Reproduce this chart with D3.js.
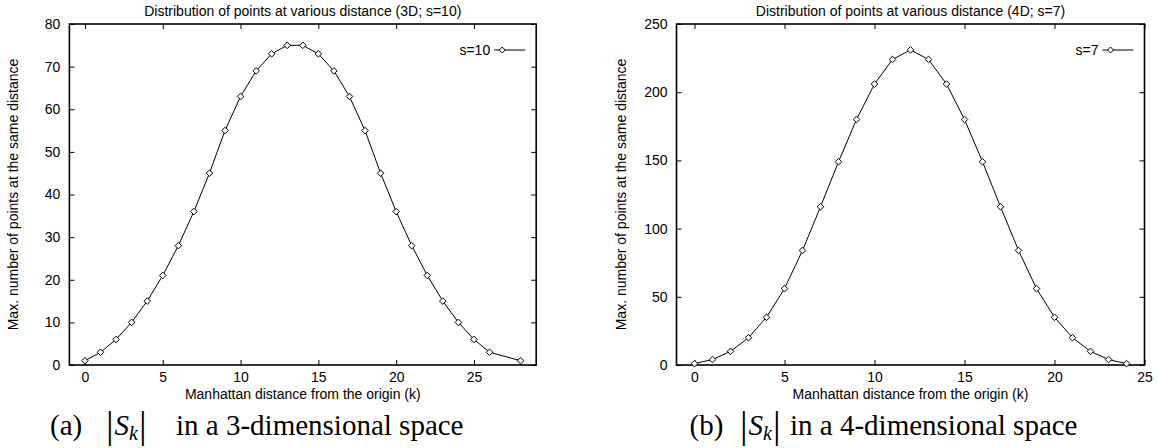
<!DOCTYPE html>
<html>
<head>
<meta charset="utf-8">
<script src="https://cdn.jsdelivr.net/npm/d3@7"></script>
<style>
  html, body { margin: 0; padding: 0; background: #fff; }
  svg { display: block; }
  text.sans { font-family: "Liberation Sans", Arial, Helvetica, sans-serif; fill: #000; }
  text.serif { font-family: "Liberation Serif", "Times New Roman", serif; fill: #000; }
</style>
</head>
<body>
<svg id="chart" width="1157" height="448"></svg>
<script>
// ---- data ----
const distA = [0,1,2,3,4,5,6,7,8,9,10,11,12,13,14,15,16,17,18,19,20,21,22,23,24,25,26,28];
const countA = [1,3,6,10,15,21,28,36,45,55,63,69,73,75,75,73,69,63,55,45,36,28,21,15,10,6,3,1];
const distB = [0,1,2,3,4,5,6,7,8,9,10,11,12,13,14,15,16,17,18,19,20,21,22,23,24];
const countB = [1,4,10,20,35,56,84,116,149,180,206,224,231,224,206,180,149,116,84,56,35,20,10,4,1];
const xTicksA = [0,5,10,15,20,25];
const yTicksA = [0,10,20,30,40,50,60,70,80];
const xTicksB = [0,5,10,15,20,25];
const yTicksB = [0,50,100,150,200,250];
const titles = ["Distribution of points at various distance (3D; s=10)",
                "Distribution of points at various distance (4D; s=7)"];
const legendLabels = ["s=10", "s=7"];
const xLabel = "Manhattan distance from the origin (k)";
const yLabel = "Max. number of points at the same distance";
const captionTags = ["(a)", "(b)"];
const captionText = ["in a 3-dimensional space", "in a 4-dimensional space"];

// ---- layout ----
const panels = [
  { xs: distA, ys: countA, xt: xTicksA, yt: yTicksA, xdom: [-1, 29], ydom: [0, 80],
    left: 69.4, right: 536.2, top: 24, bottom: 365, title: titles[0], leg: legendLabels[0],
    capX: 50, barX: 106, inX: 176, tag: captionTags[0], cap: captionText[0] },
  { xs: distB, ys: countB, xt: xTicksB, yt: yTicksB, xdom: [-1, 25], ydom: [0, 250],
    left: 676.5, right: 1144.5, top: 24, bottom: 365, title: titles[1], leg: legendLabels[1],
    capX: 689.5, barX: 740, inX: 790, tag: captionTags[1], cap: captionText[1] }
];

const svg = d3.select("#chart");
const FS = 14;
const diamond = r => `M0,${-r}L${r},0L0,${r}L${-r},0Z`;

panels.forEach(p => {
  const x = d3.scaleLinear().domain(p.xdom).range([p.left, p.right]);
  const y = d3.scaleLinear().domain(p.ydom).range([p.bottom, p.top]);
  const g = svg.append("g");

  const ax = (gen, tr) => {
    const a = g.append("g").attr("transform", tr).call(gen);
    a.select(".domain").remove();
    a.selectAll("line").attr("stroke", "#000").attr("stroke-width", 1);
    a.selectAll("text").attr("class", "sans").attr("font-size", FS).attr("fill", "#000");
    return a;
  };
  ax(d3.axisBottom(x).tickValues(p.xt).tickSizeInner(-5).tickSizeOuter(0).tickPadding(7).tickFormat(d3.format("d")),
     `translate(0,${p.bottom})`);
  ax(d3.axisTop(x).tickValues(p.xt).tickSizeInner(-5).tickSizeOuter(0).tickFormat(""),
     `translate(0,${p.top})`);
  ax(d3.axisLeft(y).tickValues(p.yt).tickSizeInner(-5).tickSizeOuter(0).tickPadding(9).tickFormat(d3.format("d")),
     `translate(${p.left},0)`);
  ax(d3.axisRight(y).tickValues(p.yt).tickSizeInner(-5).tickSizeOuter(0).tickFormat(""),
     `translate(${p.right},0)`);

  g.append("rect").attr("x", p.left).attr("y", p.top)
    .attr("width", p.right - p.left).attr("height", p.bottom - p.top)
    .attr("fill", "none").attr("stroke", "#000").attr("stroke-width", 1.6);

  const pts = p.xs.map((d, i) => [d, p.ys[i]]);
  g.append("path").datum(pts)
    .attr("d", d3.line().x(d => x(d[0])).y(d => y(d[1])))
    .attr("fill", "none").attr("stroke", "#000").attr("stroke-width", 1);
  g.selectAll("path.pt").data(pts).enter().append("path").attr("class", "pt")
    .attr("transform", d => `translate(${x(d[0])},${y(d[1])})`)
    .attr("d", diamond(3.3)).attr("fill", "#fff").attr("stroke", "#000").attr("stroke-width", 1);

  g.append("text").attr("class", "sans").attr("x", (p.left + p.right) / 2).attr("y", 16)
    .attr("text-anchor", "middle").attr("font-size", FS).text(p.title);
  g.append("text").attr("class", "sans").attr("x", (p.left + p.right) / 2).attr("y", 399)
    .attr("text-anchor", "middle").attr("font-size", FS).text(xLabel);
  g.append("text").attr("class", "sans")
    .attr("transform", `translate(${p.left - 51},${(p.top + p.bottom) / 2}) rotate(-90)`)
    .attr("text-anchor", "middle").attr("font-size", FS).text(yLabel);

  const ly = 50;
  g.append("text").attr("class", "sans").attr("x", p.right - 46).attr("y", ly).attr("dy", "0.35em")
    .attr("text-anchor", "end").attr("font-size", FS).text(p.leg);
  g.append("line").attr("x1", p.right - 42).attr("x2", p.right - 11).attr("y1", ly).attr("y2", ly)
    .attr("stroke", "#000").attr("stroke-width", 1);
  g.append("path").attr("transform", `translate(${p.right - 34},${ly})`)
    .attr("d", diamond(3)).attr("fill", "#fff").attr("stroke", "#000").attr("stroke-width", 1);

  // caption
  const cy = 435;
  g.append("text").attr("class", "serif").attr("x", p.capX).attr("y", cy).attr("font-size", 29).text(p.tag);
  const m = g.append("text").attr("class", "serif").attr("x", p.barX).attr("y", cy).attr("font-size", 29);
  m.append("tspan").attr("font-size", 38).attr("font-weight", 300).attr("dy", 3).text("|");
  m.append("tspan").attr("font-style", "italic").attr("dy", -3).attr("dx", 1).text("S");
  m.append("tspan").attr("font-style", "italic").attr("font-size", 20).attr("dy", 5).text("k");
  m.append("tspan").attr("font-size", 38).attr("font-weight", 300).attr("dy", -2).attr("dx", 1).text("|");
  g.append("text").attr("class", "serif").attr("x", p.inX).attr("y", cy).attr("font-size", 29).text(p.cap);
});
</script>
</body>
</html>
